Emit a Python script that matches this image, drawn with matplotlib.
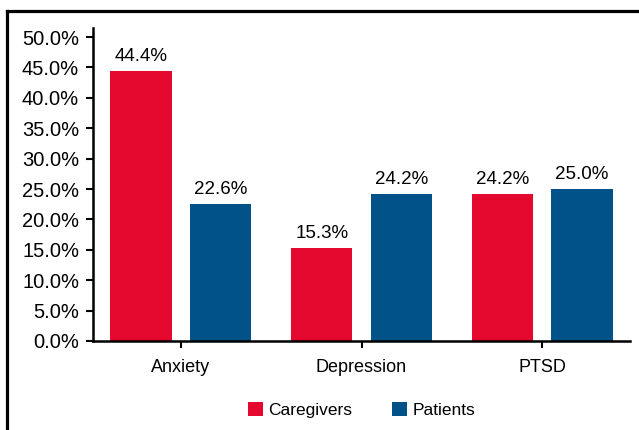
import matplotlib.pyplot as plt
from matplotlib.lines import Line2D
import numpy as np

plt.rcParams['font.family'] = ['Liberation Sans', 'DejaVu Sans']

categories = ['Anxiety', 'Depression', 'PTSD']
caregivers = [44.4, 15.3, 24.2]
patients = [22.6, 24.2, 25.0]
y_ticks = [0, 5, 10, 15, 20, 25, 30, 35, 40, 45, 50]

red = '#E4072E'
blue = '#005288'

fig = plt.figure(figsize=(6.39, 4.30), dpi=100)
ax = fig.add_axes([0.1455, 0.207, 0.8405, 0.728])

x = np.arange(len(categories))
w = 0.34
b1 = ax.bar(x - 0.22, caregivers, w, color=red, label='Caregivers')
b2 = ax.bar(x + 0.22, patients, w, color=blue, label='Patients')

for bars, vals in [(b1, caregivers), (b2, patients)]:
    for r, v in zip(bars, vals):
        ax.text(r.get_x() + r.get_width() / 2, v + 1.0, f'{v:.1f}%',
                ha='center', va='bottom', fontsize=13.5)

ax.set_xlim(-0.485, 2.485)
ax.set_ylim(0, 51.5)
ax.set_xticks(x)
ax.set_xticklabels(categories, fontsize=13)
ax.set_yticks(y_ticks)
ax.set_yticklabels([f'{t:.1f}%' for t in y_ticks], fontsize=14.5)
ax.tick_params(axis='both', direction='out', length=5, width=1.5, color='black')
ax.tick_params(axis='x', pad=8)
ax.tick_params(axis='y', pad=5)

for s in ['top', 'right']:
    ax.spines[s].set_visible(False)
for s in ['left', 'bottom']:
    ax.spines[s].set_linewidth(1.8)

fig.legend(handles=[b1, b2], loc='center', bbox_to_anchor=(0.566, 0.047),
           ncol=2, frameon=False, fontsize=12.5, handlelength=0.85,
           handleheight=0.9, handletextpad=0.3, columnspacing=2.3)

# frame lines around the figure (top and left only)
fig.add_artist(Line2D([0.011, 1.0], [0.974, 0.974], color='black', lw=2.3,
                      transform=fig.transFigure))
fig.add_artist(Line2D([0.011, 0.011], [0.0, 0.974], color='black', lw=2.3,
                      transform=fig.transFigure))

fig.savefig('out.png', dpi=100)
